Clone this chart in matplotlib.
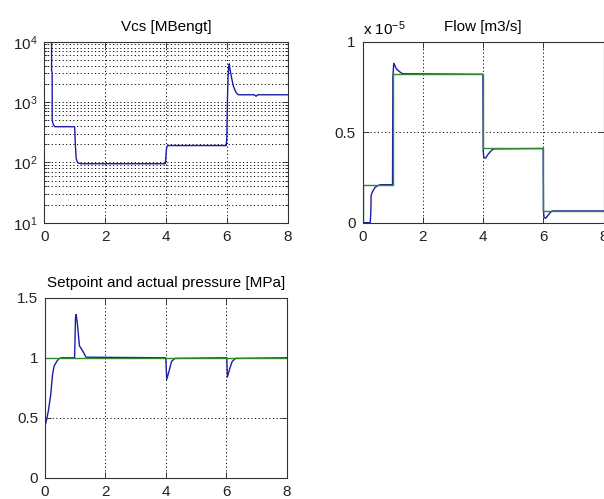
import numpy as np
import matplotlib
matplotlib.use("Agg")
import matplotlib.pyplot as plt
from matplotlib.ticker import LogLocator, NullFormatter, FixedLocator

plt.rcParams['font.family'] = ['Liberation Sans', 'DejaVu Sans']
plt.rcParams['mathtext.fontset'] = 'custom'
plt.rcParams['mathtext.rm'] = 'Liberation Sans'
plt.rcParams['mathtext.it'] = 'Liberation Sans:italic'
plt.rcParams['mathtext.bf'] = 'Liberation Sans:bold'
plt.rcParams['mathtext.default'] = 'regular'
plt.rcParams['lines.scale_dashes'] = False

# controller gain Vcs over time
vcs_t = [0.24, 0.24, 0.26, 0.26, 0.30, 0.35, 0.98, 1.00, 1.02, 1.05, 1.10, 1.20,
         3.98, 4.00, 4.02, 4.05, 4.10, 5.98, 6.00, 6.02, 6.04, 6.06, 6.08, 6.10,
         6.15, 6.22, 6.30, 6.38, 6.90, 6.96, 7.02, 8.00]
vcs = [15000, 3400, 3000, 500, 420, 390, 390, 380, 200, 115, 98, 95,
       95, 130, 175, 188, 190, 190, 260, 1100, 2600, 3700, 4300, 3600,
       2600, 1800, 1450, 1320, 1320, 1250, 1320, 1320]

# flow, setpoint steps and measured response (x 1e-5 m3/s)
flow_step_t = [0, 1, 4, 6, 8]
flow_set = [0.21, 0.82, 0.41, 0.065, 0.065]
flow_t = [0.0, 0.25, 0.27, 0.28, 0.32, 0.41, 0.50, 0.60, 0.99, 1.00, 1.00, 1.03,
          1.06, 1.12, 1.21, 1.32, 3.99, 4.00, 4.02, 4.08, 4.15, 4.25, 4.34,
          5.99, 6.00, 6.02, 6.07, 6.15, 6.22, 6.29, 8.0]
flow = [0.0, 0.0, 0.06, 0.15, 0.17, 0.195, 0.205, 0.21, 0.21, 0.74, 0.80, 0.88,
        0.87, 0.85, 0.836, 0.823, 0.82, 0.40, 0.36, 0.357, 0.375, 0.395, 0.408,
        0.41, 0.065, 0.03, 0.024, 0.04, 0.055, 0.065, 0.065]

# pressure, setpoint and actual (MPa)
p_set_t = [0, 8]
p_set = [1.0, 1.0]
p_t = [0.03, 0.11, 0.19, 0.25, 0.30, 0.39, 0.47, 0.55, 0.96, 0.98, 1.01, 1.03,
       1.07, 1.14, 1.25, 1.36, 4.00, 4.03, 4.12, 4.19, 4.30, 6.00, 6.02, 6.04,
       6.13, 6.20, 6.31, 8.0]
p_act = [0.458, 0.556, 0.694, 0.86, 0.93, 0.97, 0.994, 1.0, 1.0, 1.0, 1.33, 1.36,
         1.29, 1.10, 1.056, 1.005, 1.0, 0.82, 0.90, 0.97, 0.995, 1.0, 1.0, 0.84,
         0.92, 0.97, 0.995, 1.0]

x_ticks = [0, 2, 4, 6, 8]
blue = '#1c1ca8'
green = '#2f8a2f'
grid_style = dict(color='black', linestyle=(0, (0.8, 1.8)), linewidth=0.7)


def style_axes(ax):
    for s in ax.spines.values():
        s.set_color('#333333')
        s.set_linewidth(0.8)
    ax.tick_params(which='both', direction='in', top=True, right=True,
                   width=0.6, labelsize=11, pad=5, colors='#222222')
    ax.tick_params(which='major', length=4)
    ax.tick_params(which='minor', length=2)
    ax.set_xlim(0, 8)
    ax.set_xticks(x_ticks)
    ax.set_axisbelow(True)


fig = plt.figure(figsize=(6.04, 4.99), dpi=100)

ax1 = fig.add_axes([0.0733, 0.5537, 0.403, 0.3627])
ax1.plot(vcs_t, vcs, color=blue, lw=1.0)
ax1.set_yscale('log')
ax1.set_ylim(10, 10000)
ax1.yaxis.set_major_locator(FixedLocator([10, 100, 1000, 10000]))
ax1.yaxis.set_minor_locator(LogLocator(base=10, subs=np.arange(2, 10)))
ax1.yaxis.set_minor_formatter(NullFormatter())
style_axes(ax1)
ax1.grid(True, which='major', **grid_style)
ax1.grid(True, which='minor', axis='y', **grid_style)
ax1.set_title('Vcs [MBengt]', fontsize=11, pad=8)

ax2 = fig.add_axes([0.6005, 0.5537, 0.3990, 0.3627])
ax2.plot(flow_t, flow, color=blue, lw=1.0)
ax2.step(flow_step_t, flow_set, where='post', color=green, lw=1.0)
ax2.plot([0, 0], [0, flow_set[0]], color=green, lw=1.0)
ax2.set_ylim(0, 1)
ax2.set_yticks([0, 0.5, 1])
ax2.set_yticklabels(['0', '0.5', '1'])
style_axes(ax2)
ax2.grid(True, **grid_style)
ax2.set_title('Flow [m3/s]', fontsize=11, pad=8)
ax2.text(0.0, 1.036, r'x 10$^{-5}$', transform=ax2.transAxes,
         fontsize=11, ha='left', va='baseline')

ax3 = fig.add_axes([0.0745, 0.0421, 0.400, 0.3613])
ax3.plot(p_t, p_act, color=blue, lw=1.0)
ax3.plot(p_set_t, p_set, color=green, lw=1.0)
ax3.set_ylim(0, 1.5)
ax3.set_yticks([0, 0.5, 1, 1.5])
ax3.set_yticklabels(['0', '0.5', '1', '1.5'])
style_axes(ax3)
ax3.grid(True, **grid_style)
ax3.set_title('Setpoint and actual pressure [MPa]', fontsize=11, pad=8)

fig.savefig('out.png', dpi=100)
